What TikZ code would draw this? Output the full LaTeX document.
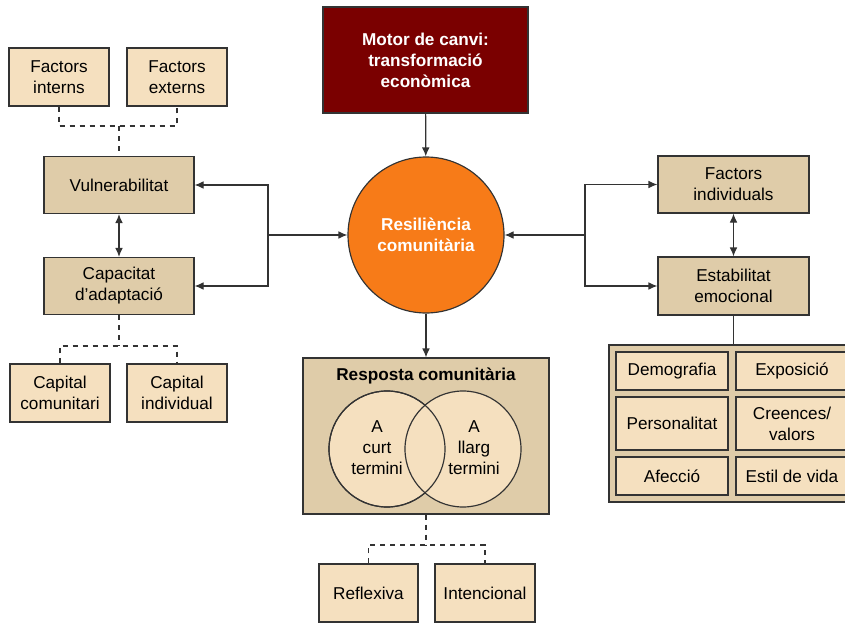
\documentclass[tikz,border=0pt]{standalone}
\usepackage{fontspec}
\setmainfont{Liberation Sans}
\usepackage{tikz}
\usetikzlibrary{calc,arrows.meta}
\definecolor{lichttan}{HTML}{F5E0BF}
\definecolor{donkertan}{HTML}{DFCCA9}
\definecolor{motorrood}{HTML}{7A0000}
\definecolor{resoranje}{HTML}{F77B18}
\definecolor{lijn}{HTML}{333333}
\begin{document}
\begin{tikzpicture}[x=0.6pt,y=-0.6pt,>={Latex[length=5.4pt,width=4.6pt]},line width=0.7pt,draw=lijn,
    every node/.style={font=\fontsize{10.3}{12.6}\selectfont,align=center,inner sep=0pt},
    lightbox/.style={rectangle,draw=lijn,fill=lichttan,minimum width=60pt,minimum height=34.8pt},
    tanbox/.style={rectangle,draw=lijn,fill=donkertan,minimum width=90pt,minimum height=34.2pt},
    smallbox/.style={rectangle,draw=lijn,fill=lichttan,minimum width=67.2pt,minimum height=22.8pt}]
      \useasboundingbox (0,0) rectangle (845,622);
      \clip (0,0) rectangle (845,622);
      % linkerkant
      \node [lightbox] (int) at (59,77) {Factors\\interns};
      \node [lightbox] (ext) at (177,77) {Factors\\externs};
      \node [tanbox] (vuln) at (119,185) {Vulnerabilitat};
      \node [tanbox] (cap) at (119,286) {Capacitat\\d’adaptació};
      \node [lightbox] (com) at (60,393) {Capital\\comunitari};
      \node [lightbox] (ind) at (177,393) {Capital\\individual};
      \coordinate (d1) at (119,126);
      \coordinate (d2) at (119,346);
      \draw [dashed] (int.south) |- (d1) -| (ext.south);
      \draw [dashed] (d1) -- (vuln.north);
      \draw [dashed] (cap.south) -- (d2);
      \draw [dashed] (com.north) |- (d2) -| (ind.north);
      \draw [<->] (vuln) -- (cap);
      % midden
      \node [rectangle,draw=lijn,fill=motorrood,text=white,font=\fontsize{10.3}{12.6}\selectfont\bfseries,
             minimum width=123pt,minimum height=63.6pt] (mot) at (425.5,60) {Motor de canvi:\\transformació\\econòmica};
      \node [circle,draw=lijn,fill=resoranje,text=white,font=\fontsize{10.3}{12.6}\selectfont\bfseries,
             minimum size=93.6pt] (res) at (426,235) {Resiliència\\comunitària};
      \draw [->] (mot) -- (res);
      \coordinate (jl) at (268,235);
      \draw [->] (jl) -- (res);
      \draw [->] (jl) |- (vuln.east);
      \draw [->] (jl) |- (cap.east);
      % resposta
      \node [rectangle,draw=lijn,fill=donkertan,minimum width=147.6pt,minimum height=93.6pt] (resp) at (426,436) {};
      \node [font=\fontsize{10.3}{12.6}\selectfont\bfseries] (tit) at (426,376) {Resposta comunitària};
      \draw [fill=lichttan] (387,449) circle [radius=34.8pt];
      \draw [fill=lichttan] (463,449) circle [radius=34.8pt];
      \draw (387,449) circle [radius=34.8pt];
      \node (curt) at (377,448) {A\\curt\\termini};
      \node (llarg) at (474,448) {A\\llarg\\termini};
      \draw [->] (res) -- (resp);
      \node [lightbox,minimum width=59.4pt] (refl) at (368.5,593) {Reflexiva};
      \node [lightbox] (inte) at (485,593) {Intencional};
      \coordinate (d3) at (426,545);
      \draw [dashed] (resp.south) -- (d3);
      \draw [dashed] (refl.north) |- (d3) -| (inte.north);
      % rechterkant
      \node [tanbox,minimum width=90.6pt] (fin) at (733.5,184.5) {Factors\\individuals};
      \node [tanbox,minimum width=90.6pt,minimum height=34.8pt] (est) at (733.5,286) {Estabilitat\\emocional};
      \draw [<->] (fin) -- (est);
      \coordinate (jr) at (585,235);
      \draw [->] (jr) -- (res);
      \draw [->] (jr) |- (fin.west);
      \draw [->] (jr) |- (est.west);
      \node [rectangle,draw=lijn,fill=donkertan,minimum width=148.2pt,minimum height=94.2pt] (pan) at (732.5,423.5) {};
      \draw (est.south) -- (est.south |- pan.north);
      \node [smallbox] (dem) at (672,371) {Demografia};
      \node [smallbox] (exp) at (792,371) {Exposició};
      \node [smallbox,minimum height=31.8pt] (per) at (672,423.5) {Personalitat};
      \node [smallbox,minimum height=31.8pt] (cre) at (792,423.5) {Creences/\\valors};
      \node [smallbox] (afe) at (672,476) {Afecció};
      \node [smallbox] (est2) at (792,476) {Estil de vida};
\end{tikzpicture}
\end{document}
